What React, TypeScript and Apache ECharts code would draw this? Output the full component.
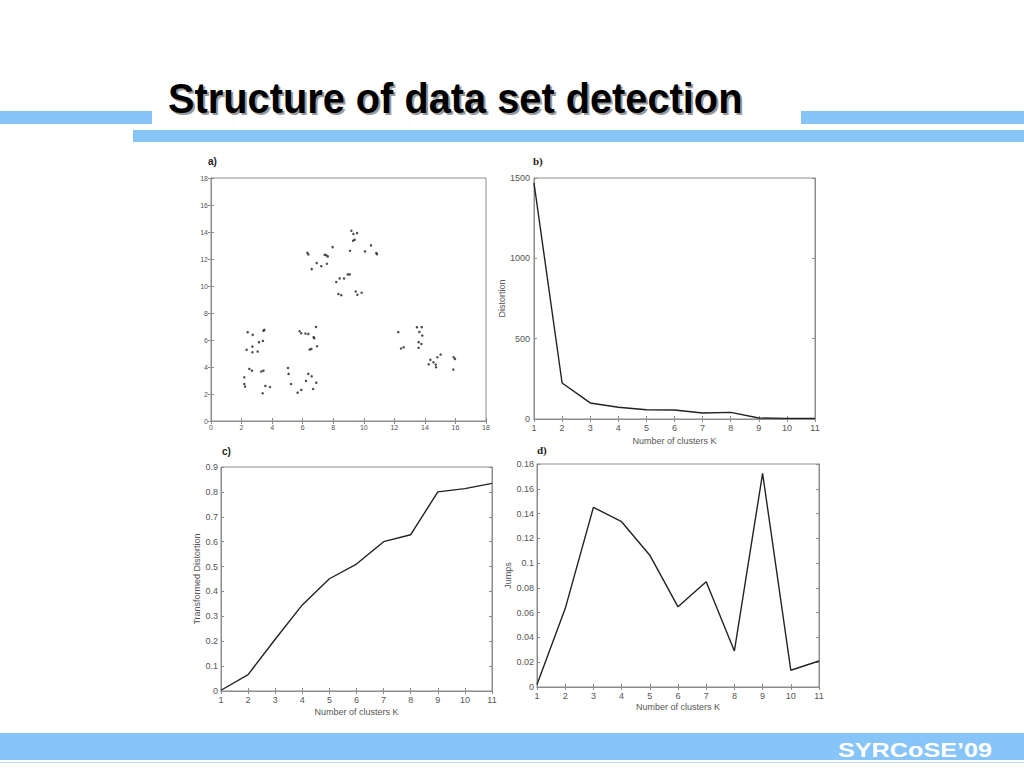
import React, { useEffect, useRef } from "react";
import * as echarts from "echarts";

// a) data set: 10 clusters of points
const scatterPoints: [number, number][] = [
  [2.18, 3.24], [2.18, 2.74], [2.23, 2.55], [2.51, 3.86], [2.68, 3.73],
  [3.29, 3.66], [3.43, 3.73], [3.56, 2.6], [3.86, 2.52], [3.38, 2.05],
  [2.4, 6.58], [2.73, 6.38], [2.33, 5.27], [2.71, 5.51], [2.71, 5.09],
  [3.05, 5.14], [3.14, 5.84], [3.4, 5.93], [3.43, 6.68], [3.49, 6.75],
  [5.04, 3.93], [5.08, 3.49], [5.24, 2.74], [5.67, 2.1], [5.91, 2.3],
  [6.22, 2.97], [6.37, 3.49], [6.59, 3.31], [6.68, 2.37], [6.89, 2.84],
  [5.8, 6.65], [5.91, 6.5], [6.18, 6.48], [6.37, 6.45], [6.72, 6.21],
  [6.76, 6.13], [6.87, 6.97], [6.94, 5.54], [6.46, 5.29], [6.57, 5.34],
  [6.31, 12.46], [6.37, 12.34], [6.59, 11.25], [6.92, 11.7], [7.22, 11.47],
  [7.44, 12.31], [7.55, 12.27], [7.64, 12.19], [7.59, 11.65], [7.96, 12.88],
  [8.2, 10.29], [8.42, 10.56], [8.71, 10.56], [8.95, 10.86], [9.08, 10.86],
  [8.34, 9.4], [8.53, 9.32], [9.47, 9.59], [9.58, 9.35], [9.86, 9.5],
  [9.19, 14.09], [9.32, 13.85], [9.56, 13.92], [9.3, 13.35], [9.4, 13.43],
  [9.1, 12.61], [10.08, 12.56], [10.47, 13.01], [10.82, 12.44], [10.86, 12.36],
  [12.26, 6.58], [12.44, 5.37], [12.61, 5.46], [13.48, 6.95], [13.79, 6.95],
  [13.64, 6.6], [13.83, 6.33], [13.59, 5.84], [13.77, 5.71], [13.59, 5.42],
  [14.25, 4.2], [14.36, 4.53], [14.56, 4.35], [14.71, 4.18], [14.73, 3.98],
  [14.82, 4.72], [15.03, 4.92], [15.88, 4.72], [15.97, 4.6], [15.86, 3.81],
];

const clustersK = [1, 2, 3, 4, 5, 6, 7, 8, 9, 10, 11];
const distortion = [1469, 224, 100, 73, 58, 56, 37, 41, 6, 4, 4];
const transformedDistortion = [0.003, 0.066, 0.208, 0.346, 0.451, 0.51, 0.6, 0.628, 0.8, 0.813, 0.834];
const jumps = [0.002, 0.0633, 0.145, 0.1334, 0.1064, 0.0647, 0.0849, 0.0291, 0.1725, 0.0135, 0.021];

const titleText = "Structure of data set detection";
const footerText = "SYRCoSE\u201909";
const xAxisName = "Number of clusters K";

const FONT = '"Liberation Sans", Arial, sans-serif';
const SERIF = '"Liberation Serif", "Times New Roman", serif';
const AXIS_GRAY = "#8c8c8c";
const LABEL_GRAY = "#555555";
const BLUE = "#87C4F7";

const fmt = (v: number) => String(parseFloat(Number(v).toFixed(3)));

type AxisSpec = {
  min: number;
  max: number;
  interval: number;
  fontSize: number;
  name?: string;
  nameGap?: number;
  labelMargin: number;
};

function axisPair(kind: "x" | "y", gridIndex: number, s: AxisSpec) {
  const common = {
    type: "value",
    gridIndex,
    min: s.min,
    max: s.max,
    interval: s.interval,
    splitLine: { show: false },
    axisLine: { show: true, lineStyle: { color: AXIS_GRAY, width: 1 } },
    axisTick: { show: true, inside: true, length: 3, lineStyle: { color: AXIS_GRAY } },
  };
  const main: any = {
    ...common,
    position: kind === "x" ? "bottom" : "left",
    axisLabel: {
      show: true,
      fontSize: s.fontSize,
      fontFamily: FONT,
      color: LABEL_GRAY,
      margin: s.labelMargin,
      formatter: (v: number) => fmt(v),
      showMinLabel: true,
      showMaxLabel: true,
    },
  };
  if (s.name) {
    main.name = s.name;
    main.nameLocation = "middle";
    main.nameGap = s.nameGap;
    main.nameTextStyle = { fontSize: 9, fontFamily: FONT, color: LABEL_GRAY };
    if (kind === "y") main.nameRotate = 90;
  }
  const second: any = {
    ...common,
    position: kind === "x" ? "top" : "right",
    axisLabel: { show: false },
  };
  return [main, second];
}

export default function App() {
  const ref = useRef<HTMLDivElement>(null);

  useEffect(() => {
    if (!ref.current) return;
    const chart = echarts.init(ref.current, undefined, { renderer: "svg" });

    const grids = [
      { left: 211, top: 178, width: 275, height: 243 },
      { left: 534, top: 178, width: 281, height: 241 },
      { left: 221, top: 467, width: 271, height: 224 },
      { left: 537, top: 464, width: 282, height: 223 },
    ].map((g) => ({ ...g, show: true, borderColor: AXIS_GRAY, borderWidth: 1, backgroundColor: "#fff" }));

    const kAxis = (gi: number, margin: number, nameGap: number) =>
      axisPair("x", gi, { min: 1, max: 11, interval: 1, fontSize: 9, labelMargin: margin, name: xAxisName, nameGap });

    const xAxes = [
      ...axisPair("x", 0, { min: 0, max: 18, interval: 2, fontSize: 7, labelMargin: 3 }),
      ...kAxis(1, 4, 17),
      ...kAxis(2, 4, 16),
      ...kAxis(3, 4, 15),
    ];
    const yAxes = [
      ...axisPair("y", 0, { min: 0, max: 18, interval: 2, fontSize: 7, labelMargin: 3 }),
      ...axisPair("y", 1, { min: 0, max: 1500, interval: 500, fontSize: 9, labelMargin: 4, name: "Distortion", nameGap: 26 }),
      ...axisPair("y", 2, { min: 0, max: 0.9, interval: 0.1, fontSize: 9, labelMargin: 3, name: "Transformed Distortion", nameGap: 20 }),
      ...axisPair("y", 3, { min: 0, max: 0.18, interval: 0.02, fontSize: 9, labelMargin: 3, name: "Jumps", nameGap: 24 }),
    ];

    const lineSeries = (idx: number, values: number[]) => ({
      type: "line",
      xAxisIndex: idx * 2,
      yAxisIndex: idx * 2,
      data: clustersK.map((k, i) => [k, values[i]]),
      showSymbol: false,
      symbol: "none",
      lineStyle: { color: "#222222", width: 1.4 },
    });

    const panelLabel = (text: string, x: number, y: number, serif: boolean) => ({
      type: "text",
      x,
      y,
      style: {
        text,
        font: serif ? `bold 11px ${SERIF}` : `bold 10px ${FONT}`,
        fill: "#222",
        textVerticalAlign: "middle",
      },
    });

    chart.setOption({
      animation: false,
      backgroundColor: "#ffffff",
      grid: grids,
      xAxis: xAxes,
      yAxis: yAxes,
      series: [
        {
          type: "scatter",
          xAxisIndex: 0,
          yAxisIndex: 0,
          data: scatterPoints,
          symbolSize: 2.5,
          itemStyle: { color: "#222" },
        },
        lineSeries(1, distortion),
        lineSeries(2, transformedDistortion),
        lineSeries(3, jumps),
      ],
      graphic: [
        { type: "rect", shape: { x: 0, y: 111, width: 152, height: 13 }, style: { fill: BLUE } },
        { type: "rect", shape: { x: 801, y: 111, width: 223, height: 13 }, style: { fill: BLUE } },
        { type: "rect", shape: { x: 133, y: 130, width: 891, height: 12 }, style: { fill: BLUE } },
        {
          type: "text",
          x: 170,
          y: 79,
          scaleX: 0.925,
          style: { text: titleText, font: `bold 43px ${FONT}`, fill: "#9a9a9a", textVerticalAlign: "top" },
        },
        {
          type: "text",
          x: 168,
          y: 77,
          scaleX: 0.925,
          style: { text: titleText, font: `bold 43px ${FONT}`, fill: "#000", textVerticalAlign: "top" },
        },
        panelLabel("a)", 208, 161, false),
        panelLabel("b)", 533, 161, true),
        panelLabel("c)", 222, 451, false),
        panelLabel("d)", 537, 450, true),
        { type: "rect", shape: { x: 0, y: 733, width: 1024, height: 27 }, style: { fill: BLUE } },
        { type: "rect", shape: { x: 0, y: 762, width: 1024, height: 1 }, style: { fill: "#bcdcf5" } },
        {
          type: "text",
          x: 838,
          y: 739,
          scaleX: 1.2,
          style: { text: footerText, font: `bold 21px ${FONT}`, fill: "#ffffff", textVerticalAlign: "top" },
        },
      ],
    });

    return () => chart.dispose();
  }, []);

  return (
    <div
      ref={ref}
      style={{ position: "absolute", left: 0, top: 0, width: 1024, height: 768, background: "#fff" }}
    />
  );
}
